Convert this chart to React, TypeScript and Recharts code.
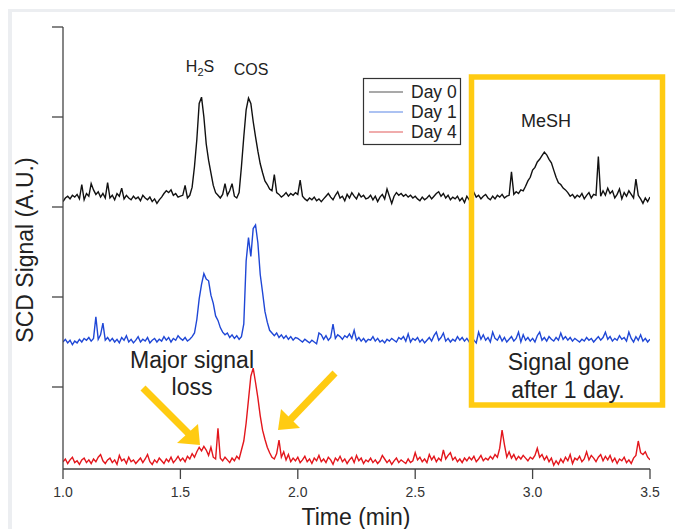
import React from 'react';
import { LineChart, Line, XAxis, YAxis } from 'recharts';

// Time axis (min)
const times = [
  1.00, 1.01, 1.02, 1.03, 1.04, 1.05, 1.06, 1.07, 1.08, 1.09,
  1.10, 1.11, 1.12, 1.13, 1.14, 1.15, 1.16, 1.17, 1.18, 1.19,
  1.20, 1.21, 1.22, 1.23, 1.24, 1.25, 1.26, 1.27, 1.28, 1.29,
  1.30, 1.31, 1.32, 1.33, 1.34, 1.35, 1.36, 1.37, 1.38, 1.39,
  1.40, 1.41, 1.42, 1.43, 1.44, 1.45, 1.46, 1.47, 1.48, 1.49,
  1.50, 1.51, 1.52, 1.53, 1.54, 1.55, 1.56, 1.57, 1.58, 1.59,
  1.60, 1.61, 1.62, 1.63, 1.64, 1.65, 1.66, 1.67, 1.68, 1.69,
  1.70, 1.71, 1.72, 1.73, 1.74, 1.75, 1.76, 1.77, 1.78, 1.79,
  1.80, 1.81, 1.82, 1.83, 1.84, 1.85, 1.86, 1.87, 1.88, 1.89,
  1.90, 1.91, 1.92, 1.93, 1.94, 1.95, 1.96, 1.97, 1.98, 1.99,
  2.00, 2.01, 2.02, 2.03, 2.04, 2.05, 2.06, 2.07, 2.08, 2.09,
  2.10, 2.11, 2.12, 2.13, 2.14, 2.15, 2.16, 2.17, 2.18, 2.19,
  2.20, 2.21, 2.22, 2.23, 2.24, 2.25, 2.26, 2.27, 2.28, 2.29,
  2.30, 2.31, 2.32, 2.33, 2.34, 2.35, 2.36, 2.37, 2.38, 2.39,
  2.40, 2.41, 2.42, 2.43, 2.44, 2.45, 2.46, 2.47, 2.48, 2.49,
  2.50, 2.51, 2.52, 2.53, 2.54, 2.55, 2.56, 2.57, 2.58, 2.59,
  2.60, 2.61, 2.62, 2.63, 2.64, 2.65, 2.66, 2.67, 2.68, 2.69,
  2.70, 2.71, 2.72, 2.73, 2.74, 2.75, 2.76, 2.77, 2.78, 2.79,
  2.80, 2.81, 2.82, 2.83, 2.84, 2.85, 2.86, 2.87, 2.88, 2.89,
  2.90, 2.91, 2.92, 2.93, 2.94, 2.95, 2.96, 2.97, 2.98, 2.99,
  3.00, 3.01, 3.02, 3.03, 3.04, 3.05, 3.06, 3.07, 3.08, 3.09,
  3.10, 3.11, 3.12, 3.13, 3.14, 3.15, 3.16, 3.17, 3.18, 3.19,
  3.20, 3.21, 3.22, 3.23, 3.24, 3.25, 3.26, 3.27, 3.28, 3.29,
  3.30, 3.31, 3.32, 3.33, 3.34, 3.35, 3.36, 3.37, 3.38, 3.39,
  3.40, 3.41, 3.42, 3.43, 3.44, 3.45, 3.46, 3.47, 3.48, 3.49,
  3.50,
];

// Day 0 (black), SCD signal A.U. (offset trace)
const day0 = [
  3.06, 3.10, 3.12, 3.09, 3.13, 3.11, 3.14, 3.09, 3.25, 3.08,
  3.15, 3.12, 3.26, 3.19, 3.14, 3.17, 3.11, 3.15, 3.10, 3.27,
  3.10, 3.13, 3.08, 3.15, 3.12, 3.21, 3.09, 3.13, 3.10, 3.08,
  3.12, 3.09, 3.11, 3.07, 3.13, 3.10, 3.08, 3.11, 3.06, 3.09,
  3.04, 3.08, 3.11, 3.15, 3.18, 3.16, 3.19, 3.13, 3.15, 3.11,
  3.12, 3.13, 3.24, 3.10, 3.13, 3.22, 3.45, 3.75, 4.15, 4.22,
  4.00, 3.70, 3.52, 3.38, 3.24, 3.16, 3.13, 3.10, 3.14, 3.26,
  3.13, 3.18, 3.26, 3.12, 3.10, 3.16, 3.45, 3.78, 4.08, 4.21,
  4.15, 3.95, 3.78, 3.62, 3.48, 3.38, 3.29, 3.25, 3.20, 3.18,
  3.36, 3.16, 3.14, 3.11, 3.13, 3.16, 3.12, 3.15, 3.13, 3.16,
  3.14, 3.30, 3.12, 3.09, 3.07, 3.10, 3.08, 3.11, 3.07, 3.09,
  3.06, 3.09, 3.12, 3.15, 3.11, 3.08, 3.13, 3.17, 3.10, 3.12,
  3.07, 3.14, 3.10, 3.16, 3.12, 3.09, 3.15, 3.11, 3.13, 3.09,
  3.10, 3.13, 3.08, 3.12, 3.06, 3.11, 3.14, 3.09, 3.20, 3.12,
  3.04, 3.12, 3.16, 3.13, 3.15, 3.12, 3.14, 3.11, 3.13, 3.10,
  3.12, 3.09, 3.07, 3.11, 3.08, 3.10, 3.13, 3.09, 3.12, 3.15,
  3.17, 3.12, 3.15, 3.10, 3.13, 3.08, 3.11, 3.09, 3.12, 3.07,
  3.10, 3.05, 3.12, 3.08, 3.13, 3.16, 3.11, 3.13, 3.09, 3.12,
  3.14, 3.10, 3.08, 3.12, 3.09, 3.13, 3.11, 3.14, 3.10, 3.12,
  3.13, 3.39, 3.14, 3.17, 3.15, 3.19, 3.18, 3.23, 3.29, 3.33,
  3.41, 3.44, 3.50, 3.53, 3.57, 3.61, 3.58, 3.53, 3.49, 3.41,
  3.33, 3.27, 3.25, 3.21, 3.19, 3.16, 3.12, 3.14, 3.10, 3.13,
  3.11, 3.15, 3.09, 3.13, 3.16, 3.10, 3.14, 3.13, 3.56, 3.12,
  3.18, 3.13, 3.21, 3.15, 3.18, 3.10, 3.14, 3.20, 3.09, 3.16,
  3.12, 3.18, 3.14, 3.10, 3.31, 3.13, 3.09, 3.04, 3.10, 3.06,
  3.11,
];

// Day 1 (blue)
const day1 = [
  1.50, 1.53, 1.49, 1.52, 1.47, 1.51, 1.49, 1.53, 1.50, 1.54,
  1.52, 1.55, 1.51, 1.54, 1.78, 1.53, 1.58, 1.71, 1.52, 1.55,
  1.51, 1.54, 1.50, 1.53, 1.49, 1.55, 1.52, 1.57, 1.50, 1.53,
  1.49, 1.52, 1.56, 1.50, 1.53, 1.51, 1.55, 1.49, 1.52, 1.54,
  1.50, 1.53, 1.51, 1.56, 1.52, 1.55, 1.50, 1.54, 1.52, 1.57,
  1.54, 1.52, 1.55, 1.51, 1.53, 1.56, 1.60, 1.75, 1.98, 2.14,
  2.26, 2.20, 2.18, 2.02, 1.93, 1.79, 1.74, 1.66, 1.61, 1.58,
  1.60, 1.55, 1.58, 1.54, 1.57, 1.53, 1.56, 1.70, 2.40, 2.66,
  2.45, 2.76, 2.80, 2.60, 2.25, 2.05, 1.84, 1.72, 1.63, 1.60,
  1.57, 1.60, 1.55, 1.58, 1.54, 1.57, 1.53, 1.56, 1.52, 1.55,
  1.54, 1.52, 1.50, 1.53, 1.51, 1.49, 1.52, 1.50, 1.48, 1.60,
  1.58, 1.53, 1.57, 1.52, 1.55, 1.70, 1.54, 1.58, 1.56, 1.53,
  1.57, 1.55, 1.59, 1.54, 1.63, 1.52, 1.55, 1.51, 1.54, 1.50,
  1.53, 1.52, 1.56, 1.51, 1.54, 1.50, 1.52, 1.49, 1.53, 1.51,
  1.54, 1.52, 1.50, 1.55, 1.53, 1.56, 1.51, 1.59, 1.50, 1.54,
  1.52, 1.55, 1.50, 1.53, 1.49, 1.52, 1.55, 1.51, 1.57, 1.61,
  1.52, 1.55, 1.60, 1.51, 1.54, 1.50, 1.53, 1.51, 1.56, 1.52,
  1.55, 1.51, 1.54, 1.50, 1.57, 1.52, 1.49, 1.61, 1.53, 1.58,
  1.52, 1.55, 1.50, 1.61, 1.54, 1.52, 1.57, 1.51, 1.55, 1.50,
  1.53, 1.56, 1.51, 1.54, 1.61, 1.50, 1.58, 1.52, 1.55, 1.51,
  1.54, 1.50, 1.57, 1.61, 1.52, 1.55, 1.51, 1.56, 1.53, 1.51,
  1.55, 1.52, 1.60, 1.53, 1.56, 1.52, 1.55, 1.51, 1.54, 1.52,
  1.50, 1.53, 1.51, 1.55, 1.52, 1.54, 1.50, 1.53, 1.56, 1.52,
  1.55, 1.61, 1.53, 1.56, 1.51, 1.54, 1.52, 1.57, 1.53, 1.55,
  1.51, 1.61, 1.54, 1.50, 1.56, 1.52, 1.58, 1.51, 1.54, 1.50,
  1.53,
];

// Day 4 (red)
const day4 = [
  0.17, 0.20, 0.15, 0.19, 0.22, 0.16, 0.18, 0.14, 0.19, 0.21,
  0.16, 0.19, 0.15, 0.20, 0.17, 0.22, 0.25, 0.18, 0.15, 0.19,
  0.21, 0.16, 0.19, 0.14, 0.24, 0.18, 0.20, 0.15, 0.22, 0.17,
  0.19, 0.15, 0.18, 0.21, 0.16, 0.20, 0.25, 0.17, 0.14, 0.19,
  0.16, 0.21, 0.18, 0.15, 0.20, 0.17, 0.22, 0.16, 0.19, 0.23,
  0.18, 0.21, 0.17, 0.23, 0.20, 0.26, 0.22, 0.28, 0.33, 0.29,
  0.34, 0.30, 0.24, 0.33, 0.22, 0.20, 0.54, 0.21, 0.18, 0.22,
  0.19, 0.16, 0.21, 0.18, 0.23, 0.20, 0.30, 0.40, 0.60, 0.86,
  1.12, 1.21, 1.05, 0.88, 0.68, 0.52, 0.42, 0.33, 0.27, 0.22,
  0.20, 0.26, 0.41, 0.22, 0.28, 0.19, 0.25, 0.17, 0.21, 0.18,
  0.22, 0.16, 0.19, 0.23, 0.17, 0.20, 0.15, 0.21, 0.18, 0.24,
  0.17, 0.20, 0.16, 0.22, 0.19, 0.14, 0.21, 0.18, 0.23, 0.17,
  0.20, 0.15, 0.19, 0.22, 0.16, 0.24, 0.18, 0.21, 0.15, 0.19,
  0.17, 0.21, 0.16, 0.19, 0.15, 0.18, 0.24, 0.20, 0.16, 0.19,
  0.14, 0.18, 0.21, 0.16, 0.19, 0.17, 0.15, 0.20, 0.16, 0.18,
  0.27, 0.19, 0.22, 0.17, 0.20, 0.16, 0.25, 0.19, 0.23, 0.17,
  0.21, 0.18, 0.30, 0.20, 0.24, 0.27, 0.19, 0.22, 0.17, 0.20,
  0.16, 0.21, 0.18, 0.22, 0.19, 0.23, 0.17, 0.20, 0.24, 0.18,
  0.21, 0.19, 0.23, 0.20, 0.25, 0.22, 0.32, 0.52, 0.36, 0.22,
  0.28, 0.21, 0.25, 0.19, 0.23, 0.20, 0.24, 0.21, 0.18, 0.22,
  0.20, 0.24, 0.32, 0.22, 0.25, 0.19, 0.23, 0.17, 0.21, 0.13,
  0.18, 0.14, 0.20, 0.16, 0.22, 0.18, 0.25, 0.15, 0.21, 0.19,
  0.23, 0.17, 0.20, 0.28, 0.19, 0.24, 0.21, 0.17, 0.22, 0.25,
  0.18, 0.23, 0.19, 0.24, 0.17, 0.21, 0.15, 0.20, 0.18, 0.22,
  0.16, 0.19, 0.15, 0.21, 0.24, 0.40, 0.27, 0.25, 0.28, 0.22,
  0.19,
];

const xTicks = [1.0, 1.5, 2.0, 2.5, 3.0, 3.5];
const yTicks = [1, 2, 3, 4, 5];
const seriesNames = ['Day 0', 'Day 1', 'Day 4'];
const seriesKeys = ['d0', 'd1', 'd4'];
const seriesColors = ['#111111', '#1f47d6', '#e3161c'];
const legendColors = ['#555555', '#5b86e6', '#e25a5a'];

const data = times.map((t, i) => ({ t, d0: day0[i], d1: day1[i], d4: day4[i] }));

const FONT = '"Liberation Sans", Arial, Helvetica, sans-serif';
const YELLOW = '#FFCB12';
const TXT = '#222222';

export default function App() {
  return (
    <div
      style={{
        position: 'absolute',
        left: 0,
        top: 0,
        width: 675,
        height: 529,
        background: '#ffffff',
        overflow: 'hidden',
        fontFamily: FONT,
      }}
    >
      <svg width={675} height={529} style={{ position: 'absolute', left: 0, top: 0 }}>
        <rect x={9} y={9} width={666} height={3} fill="#eceef1" />
        <rect x={8} y={9} width={4} height={520} fill="#eceef1" />
      </svg>
      <div style={{ position: 'absolute', left: 0, top: 0 }}>
        <LineChart
          width={675}
          height={529}
          data={data}
          margin={{ top: 27, right: 25, bottom: 0, left: 13 }}
        >
          <XAxis
            dataKey="t"
            type="number"
            domain={[1, 3.5]}
            ticks={xTicks}
            tickFormatter={(v: number) => v.toFixed(1)}
            tickSize={10}
            tickMargin={8}
            height={60}
            allowDataOverflow
            axisLine={{ stroke: '#444', strokeWidth: 1.3 }}
            tickLine={{ stroke: '#444', strokeWidth: 1.3 }}
            tick={{ fill: '#333', fontSize: 14, fontFamily: FONT }}
          />
          <YAxis
            type="number"
            domain={[0.0889, 5]}
            ticks={yTicks}
            tickFormatter={() => ''}
            width={50}
            tickSize={11}
            allowDataOverflow
            axisLine={{ stroke: '#444', strokeWidth: 1.3 }}
            tickLine={{ stroke: '#444', strokeWidth: 1.3 }}
          />
          {seriesKeys.map((k, i) => (
            <Line
              key={k}
              dataKey={k}
              name={seriesNames[i]}
              type="linear"
              stroke={seriesColors[i]}
              strokeWidth={1.4}
              dot={false}
              activeDot={false}
              isAnimationActive={false}
            />
          ))}
        </LineChart>
      </div>
      <svg
        width={675}
        height={529}
        style={{ position: 'absolute', left: 0, top: 0, pointerEvents: 'none' }}
        fontFamily={FONT}
      >
        {/* peak labels */}
        <text x={200} y={72} textAnchor="middle" fontSize={16} fill={TXT}>
          H<tspan fontSize={11} dy={4}>2</tspan>
          <tspan dy={-4}>S</tspan>
        </text>
        <text x={251} y={75} textAnchor="middle" fontSize={16} fill={TXT}>
          COS
        </text>
        <text x={546} y={127} textAnchor="middle" fontSize={18} fill={TXT}>
          MeSH
        </text>

        {/* legend */}
        <rect x={363.5} y={78.5} width={97} height={66} fill="#fff" stroke="#333" strokeWidth={1.2} />
        {seriesNames.map((n, i) => (
          <g key={n}>
            <line x1={369} x2={403} y1={92 + i * 20} y2={92 + i * 20} stroke={legendColors[i]} strokeWidth={1.2} />
            <text x={411} y={98 + i * 20} fontSize={17.5} fill={TXT}>
              {n}
            </text>
          </g>
        ))}

        {/* highlight box */}
        <rect x={471.5} y={77} width={191} height={328} fill="none" stroke={YELLOW} strokeWidth={5.5} />
        <text x={568.5} y={370} textAnchor="middle" fontSize={23} fill={TXT}>
          Signal gone
        </text>
        <text x={568} y={398} textAnchor="middle" fontSize={23} fill={TXT}>
          after 1 day.
        </text>

        {/* major signal loss annotation */}
        <text x={192} y={368} textAnchor="middle" fontSize={23} fill={TXT}>
          Major signal
        </text>
        <text x={192} y={395} textAnchor="middle" fontSize={23} fill={TXT}>
          loss
        </text>
        <line x1={143} y1={388} x2={189} y2={434} stroke={YELLOW} strokeWidth={7} />
        <polygon points="200,445 198,424 177,443" fill={YELLOW} />
        <line x1={335} y1={373} x2={290} y2={420} stroke={YELLOW} strokeWidth={7} />
        <polygon points="278,430 300,428 281,409" fill={YELLOW} />

        {/* axis titles */}
        <text x={356} y={525} textAnchor="middle" fontSize={23} fill={TXT}>
          Time (min)
        </text>
        <text x={33} y={250} textAnchor="middle" fontSize={23} fill={TXT} transform="rotate(-90 33 250)">
          SCD Signal (A.U.)
        </text>
      </svg>
    </div>
  );
}
